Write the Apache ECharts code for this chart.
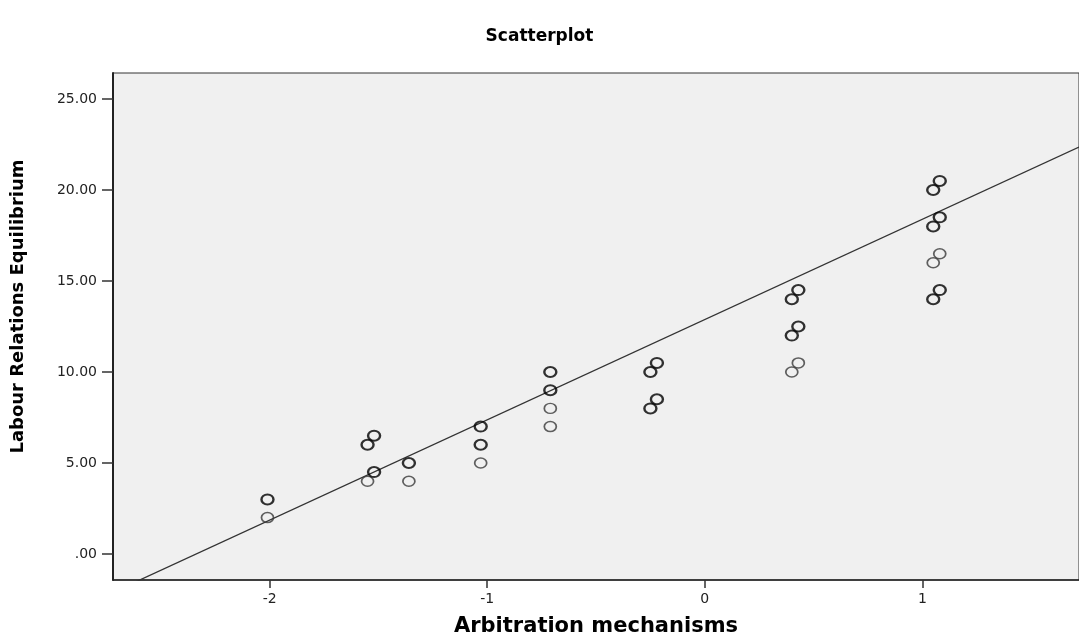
<!DOCTYPE html>
<html>
<head>
<meta charset="utf-8">
<script src="https://cdn.jsdelivr.net/npm/echarts@6/dist/echarts.min.js"></script>
<style>
html,body{margin:0;padding:0;background:#fff;}
#chart{width:1079px;height:640px;}
</style>
</head>
<body>
<div id="chart"></div>
<script>
// ---- data ----
var darkX = [-2.01, -1.55, -1.52, -1.52, -1.36, -1.03, -1.03, -0.71, -0.71, -0.25, -0.22, -0.25, -0.22, 0.40, 0.43, 0.40, 0.43, 1.05, 1.08, 1.05, 1.08, 1.05, 1.08];
var darkY = [3, 6, 6.5, 4.5, 5, 7, 6, 10, 9, 10, 10.5, 8, 8.5, 14, 14.5, 12, 12.5, 20, 20.5, 18, 18.5, 14, 14.5];
var lightX = [-2.01, -1.55, -1.36, -1.03, -0.71, -0.71, 0.40, 0.43, 1.05, 1.08];
var lightY = [2, 4, 4, 5, 8, 7, 10, 10.5, 16, 16.5];
var fitIntercept = 12.88;
var fitSlope = 5.51;
var xTicks = [-2, -1, 0, 1];
var yTicks = [0, 5, 10, 15, 20, 25];
var xMin = -2.72, xMax = 1.72, yMin = -1.43, yMax = 26.43;

function pairs(xs, ys) { return xs.map(function (x, i) { return [x, ys[i]]; }); }
var fitLine = [[xMin, fitIntercept + fitSlope * xMin], [xMax, fitIntercept + fitSlope * xMax]];

var chart = echarts.init(document.getElementById('chart'), null, { renderer: 'canvas' });
var wideFont = '"DejaVu Sans", Verdana, sans-serif';
var tickFont = { fontFamily: wideFont, fontSize: 14, color: '#222' };
chart.setOption({
  animation: false,
  backgroundColor: '#ffffff',
  title: {
    text: 'Scatterplot', left: 'center', top: 23,
    textStyle: { fontFamily: wideFont, fontWeight: 'bold', fontSize: 17, color: '#000' }
  },
  grid: {
    left: 113, top: 73, right: 0, bottom: 60,
    outerBoundsMode: 'none', containLabel: false,
    show: true, backgroundColor: '#f0f0f0', borderColor: '#333', borderWidth: 1
  },
  xAxis: {
    type: 'value', min: xMin, max: xMax,
    name: 'Arbitration mechanisms', nameLocation: 'middle', nameGap: 36,
    nameTextStyle: { fontFamily: wideFont, fontWeight: 'bold', fontSize: 21, color: '#000' },
    axisLine: { show: true, onZero: false, lineStyle: { color: '#222', width: 1.5 } },
    axisTick: { show: true, customValues: xTicks, length: 8, lineStyle: { color: '#333', width: 1.5 } },
    axisLabel: Object.assign({ customValues: xTicks, margin: 12, formatter: function (v) { return String(Math.round(v)); } }, tickFont),
    splitLine: { show: false }
  },
  yAxis: {
    type: 'value', min: yMin, max: yMax,
    name: 'Labour Relations Equilibrium', nameLocation: 'middle', nameGap: 86, nameRotate: 90,
    nameTextStyle: { fontFamily: wideFont, fontWeight: 'bold', fontSize: 18, color: '#000', padding: [0, 0, 0, 40] },
    axisLine: { show: true, onZero: false, lineStyle: { color: '#222', width: 2 } },
    axisTick: { show: true, customValues: yTicks, length: 11, lineStyle: { color: '#333', width: 1.5 } },
    axisLabel: Object.assign({ customValues: yTicks, margin: 16, formatter: function (v) { return v === 0 ? '.00' : v.toFixed(2); } }, tickFont),
    splitLine: { show: false }
  },
  series: [
    {
      type: 'line', data: fitLine, showSymbol: false, symbol: 'none', clip: true,
      lineStyle: { color: '#333', width: 1.3 }, z: 1
    },
    {
      type: 'scatter', data: pairs(lightX, lightY), symbol: 'circle', symbolSize: [12, 10],
      itemStyle: { color: 'rgba(0,0,0,0)', borderColor: '#3a3a3a', borderWidth: 1.6 }, z: 2
    },
    {
      type: 'scatter', data: pairs(darkX, darkY), symbol: 'circle', symbolSize: [12, 10],
      itemStyle: { color: 'rgba(0,0,0,0)', borderColor: '#000', borderWidth: 2.2 }, z: 3
    }
  ]
});
</script>
</body>
</html>
